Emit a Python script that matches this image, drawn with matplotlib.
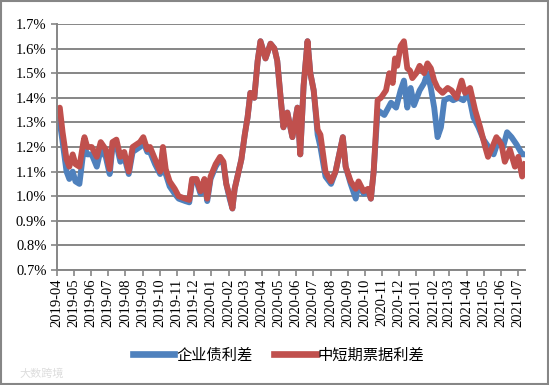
import matplotlib
matplotlib.use('Agg')
import matplotlib.pyplot as plt
import matplotlib.dates as mdates
from matplotlib.patches import Rectangle
from matplotlib.ticker import FuncFormatter, MultipleLocator
import pandas as pd

# 企业债利差 (blue) and 中短期票据利差 (red), values in %
red_dates = [
    '2019-04-01', '2019-04-06', '2019-04-11', '2019-04-18', '2019-04-23', '2019-04-29',
    '2019-05-04', '2019-05-11', '2019-05-18', '2019-05-20', '2019-05-25', '2019-06-02',
    '2019-06-11', '2019-06-18', '2019-06-27', '2019-07-04', '2019-07-09', '2019-07-16',
    '2019-07-23', '2019-07-30', '2019-08-07', '2019-08-14', '2019-08-27', '2019-09-02',
    '2019-09-09', '2019-09-14', '2019-09-23', '2019-10-02', '2019-10-07', '2019-10-12',
    '2019-10-19', '2019-10-28', '2019-11-04', '2019-11-16', '2019-11-23', '2019-11-28',
    '2019-12-06', '2019-12-13', '2019-12-20', '2019-12-25', '2019-12-31', '2020-01-09',
    '2020-01-17', '2020-01-23', '2020-01-28', '2020-02-03', '2020-02-08', '2020-02-12',
    '2020-02-19', '2020-02-24', '2020-03-01', '2020-03-06', '2020-03-11', '2020-03-18',
    '2020-03-24', '2020-03-29', '2020-04-07', '2020-04-16', '2020-04-23', '2020-04-28',
    '2020-05-04', '2020-05-09', '2020-05-16', '2020-05-25', '2020-06-03', '2020-06-08',
    '2020-06-14', '2020-06-21', '2020-06-26', '2020-07-02', '2020-07-09', '2020-07-14',
    '2020-07-23', '2020-08-02', '2020-08-10', '2020-08-23', '2020-08-28', '2020-09-06',
    '2020-09-15', '2020-09-20', '2020-09-29', '2020-10-07', '2020-10-12', '2020-10-17',
    '2020-10-24', '2020-10-30', '2020-11-08', '2020-11-14', '2020-11-20', '2020-11-24',
    '2020-11-28', '2020-12-04', '2020-12-10', '2020-12-16', '2020-12-21', '2020-12-25',
    '2021-01-01', '2021-01-07', '2021-01-15', '2021-01-21', '2021-01-27', '2021-02-02',
    '2021-02-08', '2021-02-17', '2021-02-26', '2021-03-05', '2021-03-14', '2021-03-23',
    '2021-03-29', '2021-04-07', '2021-04-16', '2021-04-25', '2021-05-04', '2021-05-09',
    '2021-05-15', '2021-05-24', '2021-06-02', '2021-06-08', '2021-06-17', '2021-06-26',
    '2021-07-02', '2021-07-09', '2021-07-14',
]
red_vals = [
    1.35, 1.36, 1.26, 1.15, 1.12, 1.17,
    1.13, 1.12, 1.22, 1.24, 1.20, 1.20,
    1.16, 1.22, 1.19, 1.11, 1.22, 1.23,
    1.16, 1.18, 1.10, 1.20, 1.22, 1.24,
    1.19, 1.20, 1.15, 1.10, 1.20, 1.11,
    1.06, 1.03, 1.00, 0.99, 0.985, 1.07,
    1.07, 1.02, 1.07, 0.99, 1.08, 1.13,
    1.16, 1.14, 1.05, 1.00, 0.95, 1.03,
    1.10, 1.15, 1.25, 1.32, 1.42, 1.40,
    1.55, 1.63, 1.56, 1.62, 1.60, 1.55,
    1.40, 1.28, 1.34, 1.24, 1.36, 1.17,
    1.45, 1.63, 1.50, 1.43, 1.27, 1.25,
    1.10, 1.06, 1.10, 1.24, 1.12, 1.06,
    1.03, 1.06, 1.02, 1.03, 0.99, 1.10,
    1.39, 1.40, 1.43, 1.50, 1.46, 1.56,
    1.53, 1.61, 1.63, 1.52, 1.51, 1.48,
    1.50, 1.53, 1.50, 1.54, 1.52, 1.47,
    1.44, 1.42, 1.44, 1.43, 1.40, 1.47,
    1.42, 1.44, 1.35, 1.28, 1.20, 1.16,
    1.19, 1.24, 1.21, 1.14, 1.19, 1.12,
    1.16, 1.08, 1.13,
]

blue_dates = red_dates[:84] + [
    '2020-10-24', '2020-11-05', '2020-11-17', '2020-11-26', '2020-12-04', '2020-12-10',
    '2020-12-16', '2020-12-22', '2020-12-28', '2021-01-07', '2021-01-15', '2021-01-21',
    '2021-01-27', '2021-02-02', '2021-02-08', '2021-02-14', '2021-02-20', '2021-03-01',
    '2021-03-08', '2021-03-17', '2021-03-26', '2021-04-04', '2021-04-13', '2021-04-22',
    '2021-05-01', '2021-05-10', '2021-05-19', '2021-05-28', '2021-06-05', '2021-06-12',
    '2021-06-20', '2021-06-29', '2021-07-09', '2021-07-14',
]
blue_vals = [
    1.31, 1.30, 1.22, 1.10, 1.07, 1.10,
    1.06, 1.05, 1.18, 1.20, 1.17, 1.17,
    1.12, 1.19, 1.16, 1.09, 1.20, 1.21,
    1.14, 1.16, 1.09, 1.18, 1.20, 1.22,
    1.18, 1.18, 1.13, 1.09, 1.18, 1.09,
    1.04, 1.01, 0.99, 0.98, 0.975, 1.06,
    1.06, 1.01, 1.06, 0.98, 1.07, 1.12,
    1.15, 1.13, 1.05, 0.99, 0.95, 1.03,
    1.10, 1.15, 1.25, 1.32, 1.42, 1.40,
    1.55, 1.63, 1.56, 1.62, 1.60, 1.55,
    1.40, 1.28, 1.34, 1.24, 1.36, 1.17,
    1.45, 1.63, 1.50, 1.43, 1.25, 1.20,
    1.08, 1.05, 1.10, 1.24, 1.12, 1.05,
    0.99, 1.05, 1.01, 1.02, 0.99, 1.10,
    1.35, 1.33, 1.38, 1.36, 1.43, 1.47,
    1.36, 1.44, 1.37, 1.43, 1.46, 1.50,
    1.44, 1.36, 1.24, 1.28, 1.39, 1.40,
    1.39, 1.40, 1.39, 1.42, 1.32, 1.28,
    1.23, 1.20, 1.17, 1.23, 1.20, 1.26,
    1.24, 1.21, 1.17, 1.17,
]

labels = ['企业债利差', '中短期票据利差']
colors = ['#4F81BD', '#C0504D']
grey = '#868686'

fig = plt.figure(figsize=(5.49, 3.85), dpi=100)
ax = fig.add_axes([57 / 549, 1 - 270 / 385, 468 / 549, 246 / 385])

ax.plot(pd.to_datetime(blue_dates), blue_vals, color=colors[0], lw=4.2,
        solid_joinstyle='round', label=labels[0], zorder=3)
ax.plot(pd.to_datetime(red_dates), red_vals, color=colors[1], lw=4.2,
        solid_joinstyle='round', label=labels[1], zorder=4)

ax.set_ylim(0.7, 1.7)
ax.yaxis.set_major_locator(MultipleLocator(0.1))
ax.yaxis.set_major_formatter(FuncFormatter(lambda v, p: '%.1f%%' % v))
ax.set_xlim(pd.Timestamp(red_dates[0]), pd.Timestamp(red_dates[-1]))
ax.xaxis.set_major_locator(mdates.MonthLocator())
ax.xaxis.set_major_formatter(mdates.DateFormatter('%Y-%m'))

ax.grid(axis='y', color=grey, lw=1.4)
ax.set_axisbelow(True)
for s in ['top', 'right']:
    ax.spines[s].set_visible(False)
for s in ['left', 'bottom']:
    ax.spines[s].set_color(grey)
    ax.spines[s].set_linewidth(1.4)
    ax.spines[s].set_zorder(5)

ax.tick_params(axis='both', direction='out', length=4, width=1.2, color=grey,
               labelsize=10.5, labelcolor='black')
ax.tick_params(axis='x', labelrotation=90, pad=2)
for t in ax.get_xticklabels() + ax.get_yticklabels():
    t.set_fontfamily('Liberation Serif')

leg = fig.legend(loc='center', bbox_to_anchor=(0.508, 0.078), ncol=2, frameon=False,
                 handlelength=2.7, columnspacing=1.4, handletextpad=0.15,
                 prop={'family': 'Noto Sans CJK SC', 'size': 11})
for line in leg.get_lines():
    line.set_linewidth(4.8)

fig.text(0.035, 0.03, '大数跨境', color='#dddddd', fontsize=8,
         family='Noto Sans CJK SC', va='center')

fig.patches.append(Rectangle((0.001, 0.002), 0.997, 0.995, transform=fig.transFigure,
                             fill=False, edgecolor=grey, lw=1.5))

fig.savefig('out.png', dpi=100)
